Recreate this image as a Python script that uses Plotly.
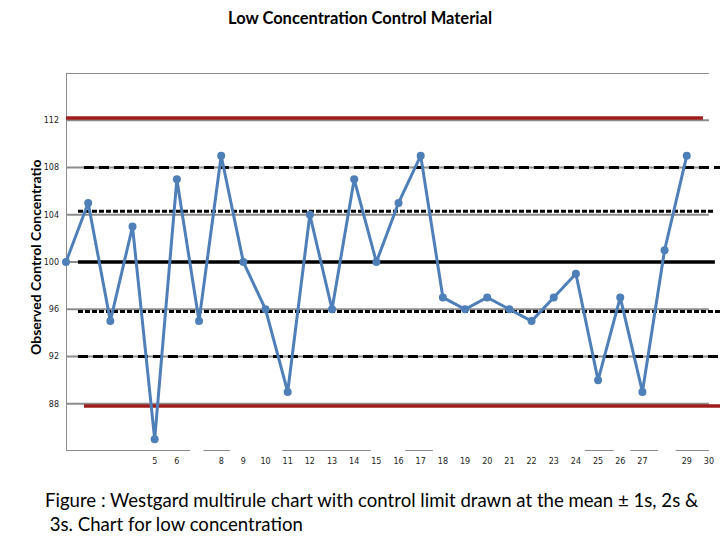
import plotly.graph_objects as go

# ---- data ----
runs = list(range(1, 30))
observed = [100, 105, 95, 103, 85, 107, 95, 109, 100, 96, 89, 104, 96, 107, 100,
            105, 109, 97, 96, 97, 96, 95, 97, 99, 90, 97, 89, 101, 109]
y_ticks = [88, 92, 96, 100, 104, 108, 112]
x_tick_vals = [5, 6, 8, 9, 10, 11, 12, 13, 14, 15, 16, 17, 18, 19, 20, 21, 22,
               23, 24, 25, 26, 27, 29, 30]
x_tick_text = [str(v) for v in x_tick_vals]
mean_value = 100
limit_values = [112.2, 108, 104.3, 100, 95.8, 92, 87.8]  # +3s, +2s, +1s, mean, -1s, -2s, -3s

# ---- styles (extents in run units) ----
limit_styles = [
    dict(x0=1.0, x1=29.73, color="#9e1c1c", width=3.5, dash="solid"),
    dict(x0=1.81, x1=30.5, color="black", width=3, dash="10px,5px"),
    dict(x0=1.54, x1=30.27, color="black", width=3, dash="5px,2px"),
    dict(x0=1.54, x1=30.27, color="black", width=3.5, dash="solid"),
    dict(x0=1.54, x1=30.5, color="black", width=3, dash="5px,2px"),
    dict(x0=1.54, x1=30.5, color="black", width=3, dash="10px,5px"),
    dict(x0=1.81, x1=30.5, color="#9e1c1c", width=3.5, dash="solid"),
]
axis_segments = [(1.0, 6.6), (7.2, 8.4), (10.75, 14.75), (16.3, 17.55),
                 (24.4, 25.7), (26.45, 27.7), (28.5, 30.0)]
grid_levels = [88, 92, 96, 100, 104, 108, 112, 116]

fig = go.Figure()

shapes = []
for g in grid_levels:
    shapes.append(dict(type="line", xref="x", yref="y", x0=1, x1=30, y0=g, y1=g,
                       line=dict(color="#8c8c8c", width=2), layer="below"))
shapes.append(dict(type="line", xref="x", yref="y", x0=1, x1=1, y0=84, y1=116,
                   line=dict(color="#8c8c8c", width=2), layer="below"))
for a, b in axis_segments:
    shapes.append(dict(type="line", xref="x", yref="y", x0=a, x1=b, y0=84, y1=84,
                       line=dict(color="#8c8c8c", width=2), layer="below"))

for val, st in zip(limit_values, limit_styles):
    fig.add_trace(go.Scatter(
        x=[st["x0"], st["x1"]], y=[val, val], mode="lines",
        line=dict(color=st["color"], width=st["width"], dash=st["dash"]),
        hoverinfo="skip", showlegend=False, cliponaxis=False))

fig.add_trace(go.Scatter(
    x=runs, y=observed, mode="lines+markers",
    line=dict(color="#4f7fb8", width=3),
    marker=dict(color="#4f7fb8", size=8),
    showlegend=False, cliponaxis=False))

fig.update_layout(
    width=720, height=540,
    margin=dict(l=66, r=0, t=73, b=89),
    paper_bgcolor="white", plot_bgcolor="white",
    shapes=shapes,
    title=dict(text="<b>Low Concentration Control Material</b>", x=0.5, xanchor="center",
               y=1 - 18 / 540, yanchor="middle",
               font=dict(family="Lato", size=16.5, color="black")),
    xaxis=dict(range=[1, 30.5], showgrid=False, zeroline=False, showline=False,
               tickmode="array", tickvals=x_tick_vals, ticktext=x_tick_text,
               ticks="", ticklabelstandoff=4,
               tickfont=dict(family="DejaVu Sans", size=8, color="#222")),
    yaxis=dict(range=[84, 116], showgrid=False, zeroline=False, showline=False,
               tickmode="array", tickvals=y_ticks, ticks="", ticklabelstandoff=6,
               tickfont=dict(family="DejaVu Sans", size=8, color="#222")),
    annotations=[
        dict(text="<b>Observed Control Concentratio</b>", textangle=-90,
             xref="paper", yref="paper", x=(35 - 66) / 654, y=(451 - 258) / 378,
             xanchor="center", yanchor="middle", showarrow=False,
             font=dict(family="Lato", size=14, color="black")),
        dict(text="Figure : Westgard multirule chart with control limit drawn at the mean ± 1s, 2s &<br> 3s. Chart for low concentration",
             xref="paper", yref="paper", x=(43 - 66) / 654, y=(451 - 487) / 378,
             xanchor="left", yanchor="top", align="left", showarrow=False,
             font=dict(family="Lato", size=18.6, color="black")),
    ],
)

fig.write_html("out.html")
